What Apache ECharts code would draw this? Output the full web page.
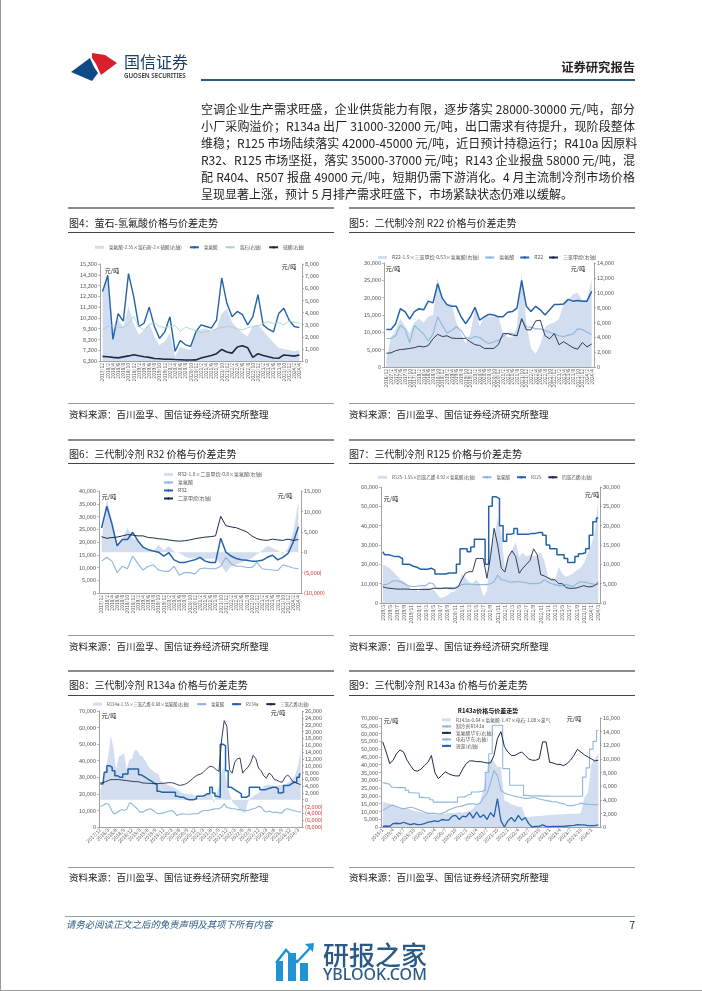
<!DOCTYPE html>
<html><head><meta charset="utf-8">
<script src="https://cdn.jsdelivr.net/npm/echarts@6/dist/echarts.min.js"></script>
<style>
html,body{margin:0;padding:0;background:#fff}
#c{position:absolute;left:0;top:0;width:702px;height:991px}
#t{position:absolute;left:201px;top:100px;width:434px;font:12px/17px "Noto Sans CJK SC";color:#222}
#t div{height:17px;text-align:justify;text-align-last:justify;white-space:nowrap}
#t div.l{text-align-last:left}
</style></head><body>
<div id="c"></div>
<div id="t">
<div>空调企业生产需求旺盛&#xFF0C;企业供货能力有限&#xFF0C;逐步落实 28000-30000 元/吨&#xFF0C;部分</div>
<div>小厂采购溢价&#xFF1B;R134a 出厂 31000-32000 元/吨&#xFF0C;出口需求有待提升&#xFF0C;现阶段整体</div>
<div>维稳&#xFF1B;R125 市场陆续落实 42000-45000 元/吨&#xFF0C;近日预计持稳运行&#xFF1B;R410a 因原料</div>
<div>R32、R125 市场坚挺&#xFF0C;落实 35000-37000 元/吨&#xFF1B;R143 企业报盘 58000 元/吨&#xFF0C;混</div>
<div>配 R404、R507 报盘 49000 元/吨&#xFF0C;短期仍需下游消化。4 月主流制冷剂市场价格</div>
<div class="l">呈现显著上涨&#xFF0C;预计 5 月排产需求旺盛下&#xFF0C;市场紧缺状态仍难以缓解。</div>
</div>
<script>
function monthRange(y,m,step,n){const a=[];for(let i=0;i<n;i++){a.push(y+'/'+m);m+=step;while(m>12){m-=12;y++;}}return a;}
const cats4=monthRange(2017,12,2,39);
const cats5=monthRange(2016,12,2,45);
const cats6=monthRange(2017,12,2,39);
const cats7=monthRange(2019,3,1,61);
const cats8=monthRange(2017,12,1,77);
const cats9=monthRange(2019,1,1,63);

const left4Ticks=[6300,7300,8300,9300,10300,11300,12300,13300,14300,15300];
const hf4=[12750,14250,8300,10700,10000,14400,12300,9500,9800,11300,9500,8400,9000,10400,7200,8200,7800,7650,9000,9650,9500,9350,10100,14000,11650,10400,10900,10600,9650,10400,12450,9650,9250,9000,10700,11200,10100,9500,9400];
const fluorite4=[2560,2840,2980,2800,2750,3100,3670,2840,2560,2980,3170,2840,2760,2840,2900,2430,2800,2650,2500,2350,2430,2500,2650,2750,2840,2800,2650,2560,2750,2840,2900,3100,3250,3100,3170,2980,3300,3200,3100];
const acid4=[380,350,300,260,340,420,520,430,350,300,200,180,150,150,120,100,80,80,90,250,350,450,600,950,750,650,1150,1250,1100,300,600,450,350,250,230,500,450,400,500];
const spread4=[5900,7000,2560,3400,2840,4500,3100,2150,2560,3100,2000,1300,1600,2300,400,1200,1000,900,2500,2600,2700,2400,2700,3900,4300,3200,2700,2300,2000,2900,3000,2500,2000,1500,1100,1000,900,800,900];

const r22=[10800,10800,12500,16800,16000,13800,16000,16800,16500,19000,18500,24000,19800,18000,17500,17500,14500,12500,14500,17200,13500,14500,15200,15000,14500,14500,15800,16000,17000,25000,17500,16000,17500,16500,15000,16500,18000,18000,18200,19500,19000,19200,19000,19000,21800];
const hf5=[8200,8200,9000,12000,11000,7000,12000,10800,9500,7500,9500,14500,12000,9800,10500,11600,10500,8500,8200,8800,8500,7500,6800,7200,7700,8800,9700,9700,9000,14000,11600,11500,11000,11000,10500,10000,9500,9000,8800,9200,9500,11000,10800,10000,9400];
const chcl5=[1850,1900,2200,2350,2400,2500,2600,2800,2700,2900,3800,4400,4100,4200,3900,3850,3850,3850,3400,3000,2900,2500,2500,2500,3000,4500,4500,4300,4200,6500,5000,5000,6200,6300,4200,3800,4500,3000,3400,3000,2600,2400,3300,2700,3100];
const spread5=[1000,4000,5000,6500,5500,4500,6000,6500,6000,6800,7000,12000,9000,8500,8500,6000,4500,3100,4500,7800,5500,6800,6800,6800,6800,4500,4000,4000,5500,12600,6000,2500,1800,3000,5400,5800,6000,6500,8500,9000,9800,10000,9000,9000,11800];

const r32=[25500,34000,27000,18500,21000,21000,23800,20500,18000,17000,16500,16000,14500,15800,13000,12000,12000,12500,13000,14000,12500,12000,12000,21500,16000,14500,13500,13000,12800,12500,12500,12800,14000,14800,13000,14000,15500,20000,26000];
const hf6=[12500,14000,12500,8000,10500,9500,14500,11500,9000,10500,11000,9000,8500,8500,10500,7000,8000,8000,7500,9500,9800,9500,9500,10500,14000,11500,10500,10500,10000,10000,12000,9500,9200,9000,8800,11000,10500,9800,9500];
const dcm6=[3800,3400,3600,3700,4000,4300,4200,4000,4000,3600,3500,3300,3200,3000,2800,2700,2800,3000,3300,3500,3700,3800,4000,8800,6500,6200,6000,5500,5000,4000,3300,3000,2900,3200,3000,2900,3200,2900,3100];
const spread6=[3000,13000,8000,2000,3000,6000,3500,3000,1500,500,200,1800,500,1500,200,-200,-1000,-1500,-1500,-1500,-1600,-1600,-1500,-3000,-5000,-3500,-3000,-2500,-2000,-1500,-500,500,1500,1000,500,-500,1000,5000,12500];

const r125=[26500,25000,24500,24000,24000,23000,20000,20000,19000,18500,17500,17500,17500,18000,17000,15000,15000,15000,15500,15500,15500,20000,28000,28000,26500,29000,33000,33000,33000,20000,50000,55000,54000,40000,32000,35500,36000,38500,35500,35500,35500,36000,36000,36500,36500,35000,30000,28000,28000,25000,25000,23000,21000,21000,24000,25500,26000,28000,35000,42000,44000];
const pce7=[4200,3900,3800,3700,3600,3600,3600,3600,3500,3500,3500,3500,3500,3500,3800,3800,3800,3800,3800,3700,3700,4200,6000,7700,8100,8100,11500,11500,11500,6400,12000,19300,15000,9000,8000,12000,13500,12000,7700,9000,10000,11000,14000,12500,7300,7000,6500,6000,6000,5000,5000,4000,3800,3800,3900,4200,4500,4200,4200,4500,5300];
const hf7=[9500,9500,10500,11500,11500,11000,10000,9000,8500,8500,8800,9000,9000,10500,10000,7500,7200,8000,8000,8000,8000,8500,9500,9800,9700,9700,9500,9500,9500,9500,10000,11000,14500,12000,11800,11000,10800,11000,11000,10800,10500,10000,10000,10000,10500,12000,10800,10000,9500,9000,9000,9500,9000,8500,10000,11000,10800,10500,10000,9700,9500];
const spread7=[10000,9500,9000,8000,7000,6000,5500,4500,3500,3500,3000,4000,4000,4000,3500,2500,1300,1500,2000,2800,3000,4300,7700,6500,5500,5000,6000,5000,1700,3000,14000,17000,22000,18000,9000,12000,13700,15800,12000,13000,12000,12500,12000,12400,13000,11000,6800,6500,6000,9400,7500,6800,7200,7700,8500,9000,10200,12500,15000,18000,26500];

const r134a=[26000,26000,33000,37000,36000,34000,31000,30000,30000,32000,32000,35000,35000,35000,35000,31500,30500,29500,28500,27500,26500,25500,21500,21000,21000,21000,21000,21000,21000,18500,18000,18000,17000,16500,16500,16500,17000,18500,18500,19000,20000,20000,24000,20500,18500,18000,50000,49000,34000,24000,23000,22000,21000,20000,18000,18000,19000,24000,24000,24000,24000,22500,22500,23000,23500,24000,24000,23000,20500,21000,25000,25000,26000,27000,27000,30000,32000];
const tce8=[4900,5000,5300,5600,5900,5900,5900,5900,5800,5700,5600,5500,5400,5300,5300,5200,4900,4900,4800,4800,4700,4700,4700,4800,4800,4900,5000,5000,4800,4500,4200,4300,4500,4900,5500,6200,6800,7300,7500,8000,8800,9500,9800,9500,8800,8300,17500,23200,21500,8800,7800,11000,12000,12200,7800,8800,9500,10800,13000,12000,9300,8500,7000,6300,7800,7200,5900,5700,5300,5100,6500,7300,6500,5300,5000,4700,4400];
const hf8=[12500,13000,14000,14000,11000,8000,8200,9500,10500,10000,10500,14400,14000,12500,11000,9000,9000,9800,10500,11000,10000,8800,8000,8200,8500,9000,9500,10000,9000,7000,7500,8000,7800,7700,7700,8000,8000,8000,9000,10000,10000,10000,10500,10800,11000,11000,12000,14000,11700,11500,11000,11000,10500,10500,10000,10000,10000,10500,11000,11500,12500,12000,10000,9000,9500,9000,8800,8800,8500,8500,10500,11000,10500,10000,9700,9300,9000];
const spread8=[3000,4900,9000,12700,18800,15000,8800,12700,13000,13700,8800,11700,12000,14600,14500,13000,12700,11500,10000,9000,8500,7800,7500,5500,4900,4500,4200,3900,3500,3000,2500,2000,1800,1700,1500,1500,1000,500,500,800,1500,1800,2000,-1000,1500,4000,7800,9800,5000,2000,-500,-1500,-2000,-3000,-3500,-4000,-500,500,1000,1500,2000,2800,4000,4400,4400,4200,4000,4200,4300,4400,4400,5000,5500,6000,7500,10000,14600];

const r143a=[28500,28000,27500,25500,25300,25300,25300,23500,22000,21800,21800,19000,18800,18800,17500,16000,16000,16000,16000,16000,16000,16000,19300,19300,20500,21000,22500,22500,23000,23500,35000,47000,65300,65300,65300,37500,37500,26800,26800,26800,26800,20300,20000,20000,20000,20000,19800,19800,19700,19700,19700,19700,19700,19700,19700,19700,19700,19700,32000,38000,50000,55000,62000];
const hf9=[12500,11000,9300,9800,10800,11300,11000,9800,9000,8300,8200,8500,9000,9500,10500,8000,7100,7600,8100,7800,7600,7500,7500,8500,9300,9700,9700,9600,9600,9500,9400,9400,10500,13000,14000,11800,11000,10500,10500,10800,11000,10500,10000,9800,9800,10000,12500,12500,9500,9400,9200,9200,9000,9300,9800,10500,11400,11000,10600,10300,10000,9700,9800];
const carbide9=[2450,2700,3100,3200,3000,2800,2700,2800,2900,2800,2600,2400,2200,2000,2000,2000,1900,2000,2200,2500,2700,2900,3000,3100,3300,3400,3400,3300,3500,4300,4900,6500,8300,7500,5400,5000,4800,4650,4500,4400,4300,4200,4200,4300,4300,4100,4000,3900,3800,3700,3700,3500,3400,3200,3100,3200,3300,3500,3400,3300,3300,3250,3300];
const chlorine9=[100,150,100,500,550,500,700,500,350,500,350,400,500,700,800,900,800,1100,1000,1000,1600,1700,1100,1600,1500,2100,1300,2200,1400,1800,1100,2100,1500,4150,900,0,900,1400,800,1700,1000,1400,500,0,100,100,300,100,50,100,100,100,100,150,200,250,350,300,300,200,200,200,300];
const spread9=[16000,15500,15000,14000,13000,12500,12000,12000,11000,10500,10000,9500,9000,8500,8000,8000,8000,8500,8500,9000,9000,9200,9600,9000,10000,10000,12000,15000,16000,25000,38000,43900,42000,38500,38500,17000,16000,14500,14000,13000,13000,6400,6500,6800,7000,7000,7200,7500,7500,7800,8000,8000,8200,8300,8500,8500,8500,9000,19000,22000,40000,44000,47000];

const AREA='#d2ddef',MAIN='#2263ab',LIGHT='#8db7dc',DARK='#1d2a4a',TEAL='#a9d0cf';
const figs=[
 {id:'f4',cats:cats4,rect:[100,264,202,97],rot:90,lblInt:0,
  L:{min:6300,max:15300,interval:1000,custom:left4Ticks},R:{min:0,max:8000,interval:1000},
  legend:{left:95,top:245,itemGap:7,font:4.6},
  s:[['氢氟酸-2.35×萤石粉-2×硫酸(右轴)',spread4,1,AREA,0],['氢氟酸',hf4,0,MAIN,1.4],['萤石(右轴)',fluorite4,1,TEAL,0.9],['硫酸(右轴)',acid4,1,DARK,1.6]]},
 {id:'f5',cats:cats5,rect:[384,263,210,104],rot:90,lblInt:0,
  L:{min:0,max:30000,interval:5000},R:{min:0,max:14000,interval:2000},
  legend:{left:378,top:255,itemGap:5,font:5},
  s:[['R22-1.5×三氯甲烷-0.53×氢氟酸(右轴)',spread5,1,AREA,0],['氢氟酸',hf5,0,LIGHT,1.1],['R22',r22,0,MAIN,1.5],['三氯甲烷(右轴)',chcl5,1,DARK,0.9]]},
 {id:'f6',cats:cats6,rect:[99,491,202,102],rot:90,lblInt:0,
  L:{min:0,max:40000,interval:5000},R:{min:-10000,max:15000,interval:5000},
  legend:{left:163,top:472,orient:'vertical',itemGap:3,font:5},
  s:[['R32-1.8×二氯甲烷-0.8×氢氟酸(右轴)',spread6,1,AREA,0],['氢氟酸',hf6,0,LIGHT,1.1],['R32',r32,0,MAIN,1.5],['二氯甲烷(右轴)',dcm6,1,DARK,1]]},
 {id:'f7',cats:cats7,rect:[381,487,219,116],rot:90,lblInt:1,
  L:{min:0,max:60000,interval:10000},R:{min:0,max:30000,interval:5000},
  legend:{left:378,top:475,itemGap:6,font:4.5},
  s:[['R125-1.55×四氯乙烯-0.92×氢氟酸(右轴)',spread7,1,AREA,0],['氢氟酸',hf7,0,LIGHT,1.1],['R125',r125,0,MAIN,1.5,true],['四氯乙烯(右轴)',pce7,1,DARK,0.9]]},
 {id:'f8',cats:cats8,rect:[99,711,203,116],rot:45,lblInt:2,
  L:{min:0,max:70000,interval:10000},R:{min:-8000,max:26000,interval:2000},
  legend:{left:93,top:702,itemGap:7,font:4.3},
  s:[['R134a-1.35×三氯乙烯-0.68×氢氟酸(右轴)',spread8,1,AREA,0],['氢氟酸',hf8,0,LIGHT,1.1],['R134a',r134a,0,MAIN,1.5,true],['三氯乙烯(右轴)',tce8,1,DARK,0.9]]},
 {id:'f9',cats:cats9,rect:[381,718,219,109],rot:45,lblInt:2,
  L:{min:0,max:70000,interval:5000},R:{min:0,max:16000,interval:2000},
  legend:{left:441,top:717.5,orient:'vertical',itemGap:1.7,font:4.8},
  s:[['R143a-0.64×氢氟酸-1.47×电石-1.08×氯气',spread9,0,AREA,0],['制冷剂R143a',r143a,0,LIGHT,1.1,true],['氢氟酸华东(右轴)',hf9,1,DARK,1],['电石华东(右轴)',carbide9,1,LIGHT,1.1],['液氯(右轴)',chlorine9,1,MAIN,1.3]]}
];
const rows=[{top:208,title:223,line:232,srcLine:403,src:414},{top:440,title:454,line:463,srcLine:635,src:646},{top:671,title:685,line:695,srcLine:867,src:877}];
const COLON='\uFF1A';
const titles=[['图4'+COLON+'萤石-氢氟酸价格与价差走势','图5'+COLON+'二代制冷剂 R22 价格与价差走势'],['图6'+COLON+'三代制冷剂 R32 价格与价差走势','图7'+COLON+'三代制冷剂 R125 价格与价差走势'],['图8'+COLON+'三代制冷剂 R134a 价格与价差走势','图9'+COLON+'三代制冷剂 R143a 价格与价差走势']];
const sourceText='资料来源'+COLON+'百川盈孚、国信证券经济研究所整理';
const unitMarks=[[112,271,289,267],[393,269,578,269],[109,497,285,496],[391,499,592,495],[109,716,278,713],[391,721,574,719]];
const F='"Noto Sans CJK SC"';
const fmt=v=>{const s=Math.abs(v).toString().replace(/\B(?=(\d{3})+$)/g,',');return v<0?'('+s+')':s;};
const grid=[],xAxis=[],yAxis=[],series=[],legend=[];
const AX='#8a8a8a',LB='#555';
figs.forEach((f,i)=>{
 grid.push({left:f.rect[0],top:f.rect[1],width:f.rect[2],height:f.rect[3]});
 xAxis.push({type:'category',gridIndex:i,data:f.cats,boundaryGap:true,
  axisLine:{onZero:false,lineStyle:{color:AX,width:.8}},axisTick:{show:false},
  axisLabel:{interval:f.lblInt,rotate:f.rot,fontSize:5,color:LB,margin:2,fontFamily:F}});
 const ya=(c,pos)=>{const o={type:'value',gridIndex:i,position:pos,min:c.min,max:c.max,interval:c.interval,splitLine:{show:false},
   axisLine:{show:true,lineStyle:{color:AX,width:.8}},axisTick:{show:true,length:2,lineStyle:{color:AX,width:.6}},
   axisLabel:{fontSize:5.6,margin:3,fontFamily:F,formatter:fmt,color:v=>v<0?'#c8322e':LB}};
   if(c.custom){o.axisLabel.customValues=c.custom;o.axisTick.customValues=c.custom;}
   return o;};
 yAxis.push(ya(f.L,'left'),ya(f.R,'right'));
 const items=[];
 f.s.forEach(([n,d,ax,col,w,st],k)=>{
  const name=f.id+'|'+n;
  const o={name,type:'line',data:d,xAxisIndex:i,yAxisIndex:i*2+ax,showSymbol:false,symbol:'none',silent:true,
   itemStyle:{color:col},lineStyle:{color:col,width:w},z:2+k};
  if(st)o.step='middle';
  if(w===0){o.areaStyle={color:col,opacity:1};o.lineStyle={color:col,width:0};o.z=1;items.push({name,icon:'rect'});}
  else items.push({name});
  series.push(o);
 });
 const lg=f.legend;
 legend.push({left:lg.left,top:lg.top,itemGap:lg.itemGap,orient:lg.orient||'horizontal',data:items,itemWidth:9,itemHeight:3,padding:0,
  formatter:n=>n.split('|')[1],textStyle:{fontSize:lg.font,color:'#555',fontFamily:F},selectedMode:false});
});
const g=[];
const txt=(x,y,s,o={})=>g.push({type:'text',x,y,silent:true,style:Object.assign({text:s,fill:'#222',font:(o.font||'10px '+F),textAlign:o.align||'left',textVerticalAlign:'middle'},o.style||{})});
const rect=(x,y,w,h,c)=>g.push({type:'rect',silent:true,shape:{x,y,width:w,height:h},style:{fill:c}});
const poly=(pts,c)=>g.push({type:'polygon',silent:true,shape:{points:pts},style:{fill:c}});
rect(0,0,1,991,'#9a9a9a');rect(0,990,702,1,'#9a9a9a');
poly([[92,53],[105,55],[117,63],[101,75],[96,64],[92,58]],'#d7202c');
poly([[71,72],[90,58],[94,67],[98,73],[92,81]],'#0f4a84');
txt(124,62,'国信证券',{font:'400 16px '+F,style:{fill:'#1c3f66'}});
txt(124,76,'GUOSEN SECURITIES',{font:'600 6.2px "Noto Sans"',style:{fill:'#333'}});
txt(635,67,'证券研究报告',{font:'700 12.3px '+F,align:'right',style:{fill:'#222'}});
rect(201,79,434,2,'#2c5b7f');
rows.forEach((r,ri)=>{
 [[68,266,69],[349,286,349]].forEach(([x,w,tx],ci)=>{
  rect(x,r.top-1,w,2,'#8c8c8c');
  txt(tx,r.title,titles[ri][ci],{font:'10px '+F,style:{fill:'#222'}});
  rect(x,r.line,w,1,'#444');
  rect(x,r.srcLine,w,1,'#999');
  txt(tx,r.src,sourceText,{font:'9.5px '+F,style:{fill:'#222'}});
 });
});
unitMarks.forEach(m=>{txt(m[0],m[1],'元/吨',{font:'6px '+F,align:'center',style:{fill:'#111'}});txt(m[2],m[3],'元/吨',{font:'6px '+F,align:'center',style:{fill:'#111'}});});
txt(488,711,'R143a价格与价差走势',{font:'700 6px '+F,align:'center',style:{fill:'#111'}});
rect(65,916,570,1,'#8fa3b5');
txt(66,924,'请务必阅读正文之后的免责声明及其项下所有内容',{font:'italic 9.4px '+F,style:{fill:'#2f5d85'}});
txt(635,925,'7',{font:'10px '+F,align:'right',style:{fill:'#222'}});
const WB='#1f93d3';
rect(276,961,7,20,WB);rect(288,953,8,28,WB);rect(300,963,8,18,WB);
g.push({type:'polyline',silent:true,shape:{points:[[276,963],[286,950],[297,962],[311,947]]},style:{stroke:WB,lineWidth:2.5,fill:null}});
poly([[305,944],[314,943],[313,952]],WB);
txt(323,955,'研报之家',{font:'500 26px '+F,style:{fill:'#2a5a85'}});
txt(323,975,'YBLOOK.COM',{font:'500 16px "Noto Sans"',style:{fill:'#2a5a85'}});
const chart=echarts.init(document.getElementById('c'),null,{renderer:'canvas'});
chart.setOption({animation:false,backgroundColor:'#fff',grid,xAxis,yAxis,series,legend,graphic:{elements:g}});
</script>
</body></html>
